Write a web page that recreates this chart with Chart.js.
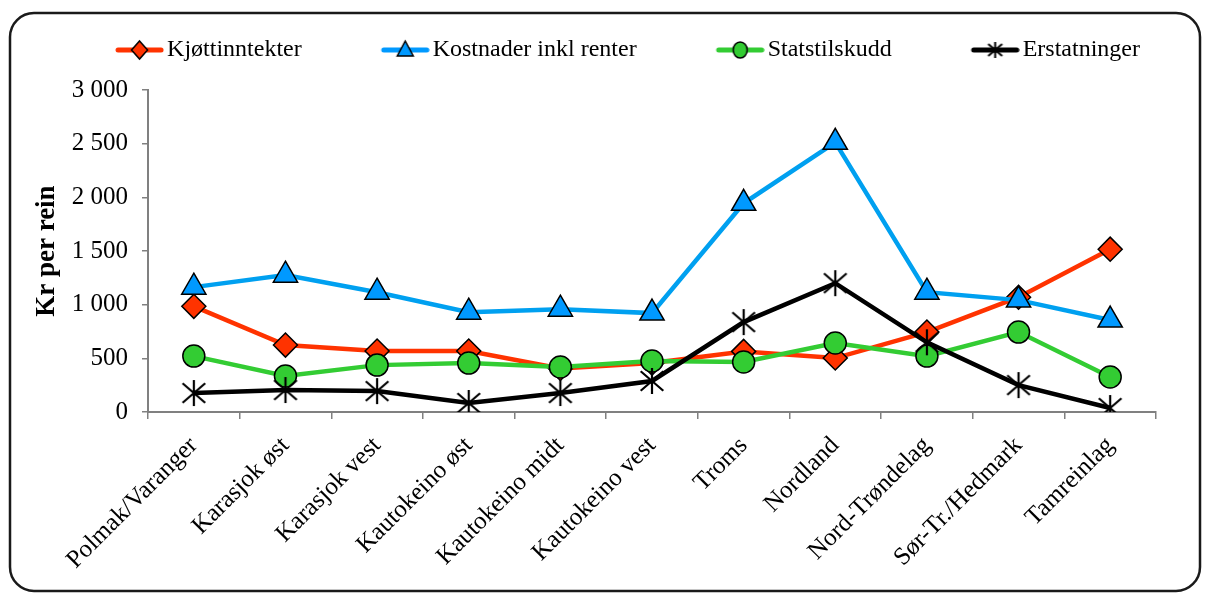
<!DOCTYPE html>
<html>
<head>
<meta charset="utf-8">
<script src="https://cdn.jsdelivr.net/npm/chart.js@4.4.1/dist/chart.umd.min.js"></script>
<style>
  html, body { margin: 0; padding: 0; background: #fff; }
</style>
</head>
<body>
<canvas id="chart" width="1211" height="593"></canvas>
<script>
const categories = ["Polmak/Varanger", "Karasjok øst", "Karasjok vest", "Kautokeino øst", "Kautokeino midt",
    "Kautokeino vest", "Troms", "Nordland", "Nord-Trøndelag", "Sør-Tr./Hedmark", "Tamreinlag"];
const kjottinntekter = [985, 624, 568, 568, 405, 456, 565, 503, 745, 1070, 1518];
const kostnader = [1164, 1276, 1117, 931, 959, 922, 1946, 2514, 1117, 1043, 857];
const statstilskudd = [521, 335, 437, 456, 419, 475, 466, 643, 521, 745, 326];
const erstatninger = [177, 205, 195, 84, 177, 289, 838, 1201, 650, 251, 37];
const seriesNames = ["Kjøttinntekter", "Kostnader inkl renter", "Statstilskudd", "Erstatninger"];
const yMin = 0, yMax = 3000, yStep = 500;

const FONT = "'Liberation Serif', 'Times New Roman', serif";

// asterisk marker: vertical bar + X (6 arms)
function asterisk(r, lw) {
    const c = document.createElement("canvas");
    c.width = c.height = r * 2 + 4;
    const g = c.getContext("2d");
    const m = r + 2;
    g.strokeStyle = "#000";
    g.lineWidth = lw;
    g.beginPath();
    g.moveTo(m, m - r); g.lineTo(m, m + r);
    const dx = r * 0.87, dy = r * 0.75;
    g.moveTo(m - dx, m - dy); g.lineTo(m + dx, m + dy);
    g.moveTo(m - dx, m + dy); g.lineTo(m + dx, m - dy);
    g.stroke();
    return c;
}

// small canvas with line + marker for the legend
function legendIcon(color, style) {
    const c = document.createElement("canvas");
    c.width = 137;
    c.height = 26;
    const g = c.getContext("2d");
    const x0 = 88, x1 = 137, cy = 13, cx = (x0 + x1) / 2;
    g.strokeStyle = color;
    g.lineWidth = 5;
    g.lineCap = "round";
    g.beginPath();
    g.moveTo(x0 + 3, cy);
    g.lineTo(x1 - 3, cy);
    g.stroke();
    g.lineCap = "butt";
    g.strokeStyle = "#000";
    g.fillStyle = color;
    g.lineWidth = 1.5;
    g.beginPath();
    if (style === "diamond") {
        g.moveTo(cx, cy - 9); g.lineTo(cx + 8, cy); g.lineTo(cx, cy + 9); g.lineTo(cx - 8, cy); g.closePath();
        g.fill(); g.stroke();
    } else if (style === "triangle") {
        g.moveTo(cx, cy - 9); g.lineTo(cx + 8, cy + 6); g.lineTo(cx - 8, cy + 6); g.closePath();
        g.fill(); g.stroke();
    } else if (style === "circle") {
        g.ellipse(cx, cy, 7, 8, 0, 0, Math.PI * 2);
        g.fill(); g.stroke();
    } else {
        g.drawImage(asterisk(8, 2), cx - 10, cy - 10);
    }
    return c;
}

const icons = [
    legendIcon("#FF3300", "diamond"),
    legendIcon("#0099FF", "triangle"),
    legendIcon("#33CC33", "circle"),
    legendIcon("#000000", "star"),
];

const frame = {
    id: "frame",
    beforeDraw(chart) {
        const ctx = chart.ctx;
        ctx.save();
        ctx.fillStyle = "#fff";
        ctx.fillRect(0, 0, chart.width, chart.height);
        ctx.beginPath();
        ctx.roundRect(10, 13, 1190, 578, 24);
        ctx.lineWidth = 2.5;
        ctx.strokeStyle = "#1a1a1a";
        ctx.stroke();
        ctx.restore();
    }
};

function spaced(v) {
    return String(v).replace(/\B(?=(\d{3})+(?!\d))/g, " ");
}

const data = {
    labels: categories,
    datasets: [
        {
            label: seriesNames[0],
            data: kjottinntekter,
            borderColor: "#FF3300",
            backgroundColor: "#FF3300",
            pointStyle: "rectRot",
            pointRadius: 12,
            order: 4,
        },
        {
            label: seriesNames[1],
            data: kostnader,
            borderColor: "#00A0F0",
            backgroundColor: "#0099FF",
            pointStyle: "triangle",
            pointRadius: 14,
            order: 3,
        },
        {
            label: seriesNames[2],
            data: statstilskudd,
            borderColor: "#33CC33",
            backgroundColor: "#33CC33",
            pointStyle: "circle",
            pointRadius: 11,
            order: 2,
        },
        {
            label: seriesNames[3],
            data: erstatninger,
            borderColor: "#000000",
            backgroundColor: "#000000",
            pointStyle: asterisk(13, 2.2),
            pointRadius: 13,
            order: 1,
        },
    ],
};

data.datasets.forEach((ds) => {
    ds.borderWidth = 4.5;
    ds.tension = 0;
    ds.pointBorderColor = "#000";
    ds.pointBorderWidth = 1.5;
    ds.pointBackgroundColor = ds.backgroundColor;
});

const config = {
    type: "line",
    data: data,
    plugins: [frame],
    options: {
        responsive: false,
        animation: false,
        layout: { padding: { left: 20, right: 55, top: 38, bottom: 0 } },
        plugins: {
            legend: {
                position: "top",
                labels: {
                    usePointStyle: true,
                    pointStyleWidth: 119,
                    padding: 0,
                    color: "#000",
                    font: { family: FONT, size: 24 },
                    generateLabels: (chart) => chart.data.datasets.map((ds, i) => ({
                        text: ds.label,
                        pointStyle: icons[i],
                        fillStyle: ds.backgroundColor,
                        strokeStyle: ds.borderColor,
                        lineWidth: 0,
                        hidden: false,
                        datasetIndex: i,
                        fontColor: "#000",
                    })),
                },
            },
            title: {
                display: true,
                text: "",
                weight: 500,
                padding: { top: 0, bottom: 17 },
                font: { size: 1 },
            },
            tooltip: { enabled: false },
        },
        scales: {
            x: {
                offset: true,
                grid: { offset: true, drawOnChartArea: false, tickLength: 7, color: "#808080", lineWidth: 1.5 },
                border: { color: "#808080", width: 2 },
                ticks: {
                    autoSkip: false,
                    minRotation: 45,
                    maxRotation: 45,
                    padding: 12,
                    color: "#000",
                    font: { family: FONT, size: 25 },
                },
                afterFit: (scale) => { scale.height = 181; },
            },
            y: {
                min: yMin,
                max: yMax,
                grid: { drawOnChartArea: false, tickLength: 6, color: "#808080", lineWidth: 1.5 },
                border: { color: "#808080", width: 2 },
                ticks: {
                    stepSize: yStep,
                    padding: 14,
                    color: "#000",
                    font: { family: FONT, size: 25 },
                    callback: (v) => spaced(v),
                },
                title: {
                    display: true,
                    text: "Kr per rein",
                    color: "#000",
                    font: { family: FONT, size: 27, weight: "bold" },
                    padding: { top: 11, bottom: 0 },
                },
                afterFit: (scale) => { scale.width = 128; },
            },
        },
    },
};

const ctx = document.getElementById("chart").getContext("2d");
const lineChart = new Chart(ctx, config);
</script>
</body>
</html>
